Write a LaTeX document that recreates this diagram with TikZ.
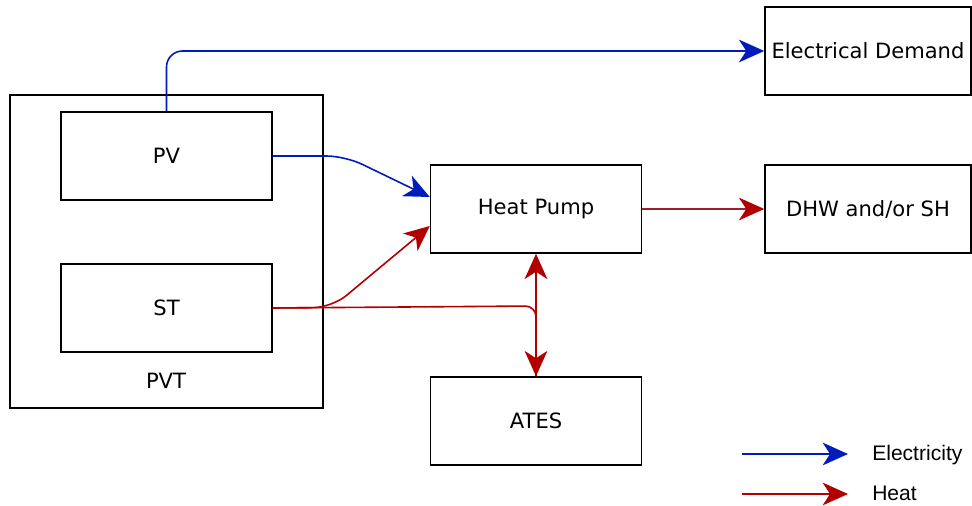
\documentclass[tikz,border=0pt]{standalone}
\usepackage{fontspec}
\setmainfont{DejaVu Sans}
\newfontfamily\legendfont{Liberation Sans}
\usetikzlibrary{arrows.meta,calc}
\definecolor{elec}{HTML}{001DBC}
\definecolor{heat}{HTML}{B20000}
\definecolor{heatdark}{HTML}{A01E28}
\tikzset{
  box/.style={draw=black, line width=1.1pt, minimum width=158.25pt, minimum height=66pt, inner sep=0pt, font=\fontsize{15.8}{18}\selectfont},
  elecline/.style={draw=elec, line width=1.2pt, -{Stealth[length=19pt,width=17pt,inset=5.5pt]}},
  heatline/.style={draw=heat, line width=1.2pt, -{Stealth[length=19pt,width=17pt,inset=5.5pt]}},
  legtext/.style={anchor=west, inner sep=0pt, font=\legendfont\fontsize{15.8}{18}\selectfont}
}
\begin{document}
\begin{tikzpicture}[x=0.75pt,y=-0.75pt]
\useasboundingbox (0,0) rectangle (972,506);
% boxes
\node[box, minimum width=234.75pt, minimum height=234.75pt] (pvt) at (166.5,251.5) {};
\node[font=\fontsize{15.8}{18}\selectfont, inner sep=0pt] (pvtlabel) at (166,381) {PVT};
\node[box] (pv) at (166.5,156) {PV};
\node[box] (st) at (166.5,308) {ST};
\node[box] (hp) at (536,209) {Heat Pump};
\node[box] (ates) at (536,421) {ATES};
\node[box, minimum width=154.5pt] (ed) at (868,51) {Electrical Demand};
\node[box, minimum width=154.5pt] (dhw) at (868,209) {DHW and/or SH};
% connectors
\draw[elecline, rounded corners=12pt] (pv.north) -- (pv.north |- ed.west) -- (ed.west);
\draw[elecline, rounded corners=14pt] (pv.east) -- (345,156) -- ($(hp.west)+(0,-12)$);
\draw[heatline, rounded corners=14pt] (st.east) -- (332,307.5) -- ($(hp.west)+(0,17)$);
\draw[draw=heat, line width=1.2pt, rounded corners=8pt] (st.east) -- (536,306) -- (ates.north);
\draw[draw=heat, line width=1.2pt, {Stealth[length=19pt,width=17pt,inset=5.5pt]}-{Stealth[length=19pt,width=17pt,inset=5.5pt]}] (hp.south) -- (ates.north);
\draw[draw=heatdark, line width=1.2pt, -{Stealth[length=19pt,width=17pt,inset=5.5pt,color=heat]}] (hp.east) -- (dhw.west);
% legend
\coordinate (l1a) at (742,454);
\coordinate (l1b) at (848,454);
\coordinate (l2a) at (742,494);
\coordinate (l2b) at (848,494);
\draw[elecline] (l1a) -- (l1b);
\draw[heatline] (l2a) -- (l2b);
\node[legtext] (legelec) at (872,455) {Electricity};
\node[legtext] (legheat) at (872,493) {Heat};
\end{tikzpicture}
\end{document}
